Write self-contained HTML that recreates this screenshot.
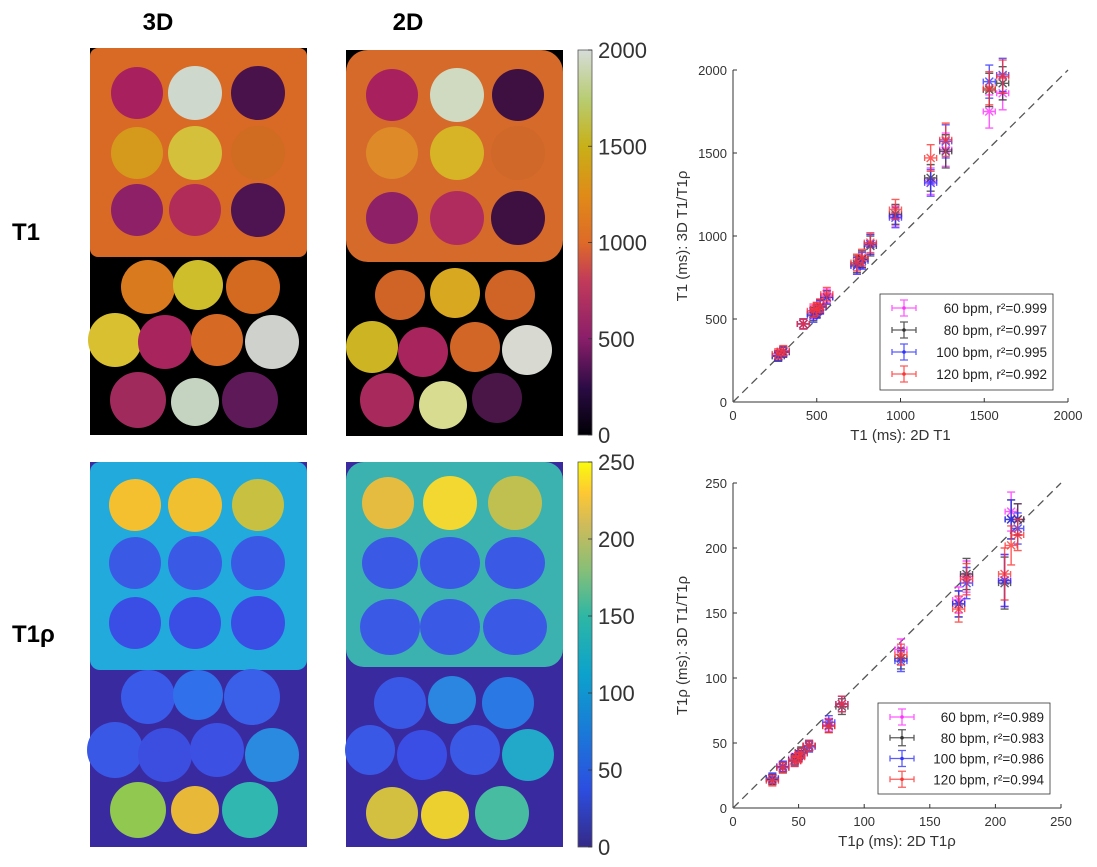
<!DOCTYPE html>
<html><head><meta charset="utf-8"><style>
body{margin:0;background:#fff;}
svg{display:block;font-family:"Liberation Sans",Arial,sans-serif;}
</style></head><body>
<svg id="fig" width="1097" height="867" viewBox="0 0 1097 867" xmlns="http://www.w3.org/2000/svg">
<defs>
<linearGradient id="gInf" x1="0" y1="1" x2="0" y2="0">
<stop offset="0" stop-color="#000004"/><stop offset="0.12" stop-color="#2a0b44"/><stop offset="0.25" stop-color="#8a1e6a"/><stop offset="0.4" stop-color="#c23a5a"/><stop offset="0.5" stop-color="#de6a28"/><stop offset="0.62" stop-color="#e08a18"/><stop offset="0.75" stop-color="#c8b018"/><stop offset="0.87" stop-color="#b8cc70"/><stop offset="1" stop-color="#d6dcd8"/>
</linearGradient>
<linearGradient id="gPar" x1="0" y1="1" x2="0" y2="0">
<stop offset="0" stop-color="#352a87"/><stop offset="0.15" stop-color="#2c4ee0"/><stop offset="0.3" stop-color="#1a7ad8"/><stop offset="0.45" stop-color="#0ca2cc"/><stop offset="0.6" stop-color="#2eb7a4"/><stop offset="0.72" stop-color="#87bf77"/><stop offset="0.84" stop-color="#d1bb59"/><stop offset="0.92" stop-color="#fec832"/><stop offset="1" stop-color="#f9fb0e"/>
</linearGradient>
</defs>
<g font-weight="bold" font-size="24" fill="#000">
<text x="158" y="30" text-anchor="middle">3D</text>
<text x="408" y="30" text-anchor="middle">2D</text>
<text x="12" y="240">T1</text>
<text x="12" y="642">T1ρ</text>
</g>
<g id="maps"></g>
<g id="plots"></g>
</svg>
<script>
// ---------- chart data ----------
const t1X = [270, 300, 420, 480, 500, 520, 560, 740, 770, 820, 970, 1180, 1270, 1530, 1610];
const t1Y60 = [280, 300, 470, 540, 560, 580, 640, 820, 860, 950, 1120, 1330, 1520, 1750, 1860];
const t1Y80 = [275, 300, 470, 530, 550, 575, 630, 830, 860, 940, 1130, 1350, 1510, 1880, 1920];
const t1Y100 = [280, 305, 470, 520, 545, 570, 630, 820, 850, 950, 1110, 1320, 1570, 1930, 1970];
const t1Y120 = [290, 310, 470, 550, 560, 580, 650, 840, 870, 960, 1160, 1470, 1580, 1890, 1960];
const t1Err = [30, 30, 30, 40, 40, 40, 40, 50, 50, 60, 60, 80, 100, 100, 100];
const t1Ticks = [0, 500, 1000, 1500, 2000];
const t1Legend = ["60 bpm, r²=0.999", "80 bpm, r²=0.997", "100 bpm, r²=0.995", "120 bpm, r²=0.992"];

const rhoX = [30, 38, 47, 50, 52, 58, 73, 83, 128, 172, 178, 207, 212, 217];
const rhoY60 = [22, 32, 38, 40, 42, 48, 64, 80, 122, 160, 178, 175, 228, 222];
const rhoY80 = [22, 31, 37, 40, 43, 48, 63, 78, 115, 157, 180, 173, 222, 222];
const rhoY100 = [23, 32, 36, 40, 42, 47, 66, 80, 113, 157, 173, 175, 222, 215];
const rhoY120 = [21, 31, 36, 39, 42, 48, 63, 80, 118, 153, 176, 180, 202, 210];
const rhoErr = [4, 4, 4, 4, 4, 4, 5, 6, 8, 10, 12, 20, 15, 12];
const rhoTicks = [0, 50, 100, 150, 200, 250];
const rhoLegend = ["60 bpm, r²=0.989", "80 bpm, r²=0.983", "100 bpm, r²=0.986", "120 bpm, r²=0.994"];

const seriesColors = ["#ff33ff", "#333333", "#3333ff", "#ff3333"];
const cbT1Ticks = [0, 500, 1000, 1500, 2000];
const cbRhoTicks = [0, 50, 100, 150, 200, 250];

const NS = "http://www.w3.org/2000/svg";
function mk(parent, tag, attrs){const e=document.createElementNS(NS,tag);for(const k in attrs)e.setAttribute(k,attrs[k]);parent.appendChild(e);return e;}

// ---------- maps ----------
const maps = document.getElementById('maps');
function panel(name, x, y, w, h, bg, sq, sqH, sqColor, circles, rx){
  const g = mk(maps,'g',{});
  
  
  mk(g,'rect',{x:x,y:y,width:w,height:h,fill:bg});
  mk(g,'rect',{x:x+sq[0],y:y,width:w-sq[0]-sq[1],height:sqH,rx:rx,fill:sqColor});
  circles.forEach(c=>{
    const e = mk(g,'ellipse',{cx:c[0],cy:c[1],rx:c[2],ry:c[3]||c[2],fill:c[4]});
    
    
  });
}
panel('map-3d-t1',90,48,217,387,'#000',[0,0],209,'#d96a26',[
 [137,93,26,0,'#a8205e'],[195,93,27,0,'#cfd8cc'],[258,93,27,0,'#4a124a'],
 [137,153,26,0,'#d59a1c'],[195,153,27,0,'#d4c03a'],[258,153,27,0,'#cf6c22'],
 [137,210,26,0,'#8e2068'],[195,210,26,0,'#b22c5a'],[258,210,27,0,'#4e1452'],
 [148,287,27,0,'#da7a1e'],[198,285,25,0,'#cfbe2c'],[253,287,27,0,'#d46a20'],
 [115,340,27,0,'#d8c030'],[165,342,27,0,'#a8245c'],[217,340,26,0,'#d66a24'],[272,342,27,0,'#cfd2cc'],
 [138,400,28,0,'#a02a5c'],[195,402,24,0,'#c4d4c0'],[250,400,28,0,'#5e1a58']],8);
panel('map-2d-t1',346,50,217,386,'#000',[0,0],212,'#d56a2a',[
 [392,95,26,0,'#a8205e'],[457,95,27,0,'#cfdac0'],[518,95,26,0,'#3e1042'],
 [392,153,26,0,'#de8a28'],[457,153,27,0,'#d6b426'],[518,153,27,0,'#d0682a'],
 [392,218,26,0,'#8e2068'],[457,218,27,0,'#b02c5e'],[518,218,27,0,'#3e1042'],
 [400,295,25,0,'#d06426'],[455,293,25,0,'#d8a820'],[510,295,25,0,'#d06426'],
 [372,347,26,0,'#cdb422'],[423,352,25,0,'#a8245c'],[475,347,25,0,'#d26626'],[527,350,25,0,'#d8dad2'],
 [387,400,27,0,'#a82a5c'],[443,405,24,0,'#d8dc90'],[497,398,25,0,'#4a1648']],22);
panel('map-3d-t1rho',90,462,217,385,'#3a2aa0',[0,0],208,'#22aadc',[
 [135,505,26,0,'#f4c030'],[195,505,27,0,'#f0c030'],[258,505,26,0,'#c8c040'],
 [135,563,26,0,'#3a5ae6'],[195,563,27,0,'#3a5ae6'],[258,563,27,0,'#3a5ae6'],
 [135,623,26,0,'#3a4ee6'],[195,623,26,0,'#3a4ee6'],[258,623,27,0,'#3a4ee6'],
 [148,697,27,0,'#3a5aea'],[198,695,25,0,'#3070ea'],[252,697,28,0,'#3a60ea'],
 [115,750,28,0,'#3a58e6'],[165,755,27,0,'#3c4ee0'],[217,750,27,0,'#3c50e4'],[272,755,27,0,'#2a8ae0'],
 [138,810,28,0,'#90c850'],[195,810,24,0,'#e8b838'],[250,810,28,0,'#30b8b0']],10);
panel('map-2d-t1rho',346,462,217,385,'#3a2aa0',[0,0],205,'#3cb2b0',[
 [388,503,26,0,'#e6bc40'],[450,503,27,0,'#f2d830'],[515,503,27,0,'#c0c050'],
 [390,563,28,26,'#3a5ae6'],[450,563,30,26,'#3a5ae6'],[515,563,30,26,'#3a5ae6'],
 [390,627,30,28,'#3a5ae6'],[450,627,30,28,'#3a5ae6'],[515,627,32,28,'#3a5ae6'],
 [400,703,26,0,'#3a58e6'],[452,700,24,0,'#2a86e0'],[508,703,26,0,'#2a78e4'],
 [370,750,25,0,'#3a58e6'],[422,755,25,0,'#3a4ee6'],[475,750,25,0,'#3a5ae6'],[528,755,26,0,'#22a8c8'],
 [392,813,26,0,'#d4c040'],[445,815,24,0,'#ecd030'],[502,813,27,0,'#48bca0']],18);

// colorbars
function colorbar(name, y0, y1, grad, ticks){
  const g = mk(maps,'g',{});
  
  
  mk(g,'rect',{x:578,y:y0,width:14,height:y1-y0,fill:'url(#'+grad+')',stroke:'#555','stroke-width':0.8});
  const max = ticks[ticks.length-1];
  ticks.forEach(t=>{
    const y = y1 - t/max*(y1-y0);
    mk(g,'line',{x1:588,x2:592,y1:y,y2:y,stroke:'#333','stroke-width':0.8});
    const tx = mk(g,'text',{x:598,y:y+8,'font-size':22,fill:'#333'});
    
    
    tx.textContent = t;
  });
}
colorbar('colorbar-t1',50,435,'gInf',cbT1Ticks);
colorbar('colorbar-t1rho',462,847,'gPar',cbRhoTicks);

// ---------- scatter plots ----------
const plots = document.getElementById('plots');
function scatter(name, L, R, T, B, max, ticks, xs, ys, err, legend, leg, xl, yl){
  const g = mk(plots,'g',{});
  
  
  const sx = v => L + v/max*(R-L);
  const sy = v => B - v/max*(B-T);
  mk(g,'line',{x1:L,y1:B,x2:R,y2:B,stroke:'#333','stroke-width':1});
  mk(g,'line',{x1:L,y1:B,x2:L,y2:T,stroke:'#333','stroke-width':1});
  ticks.forEach(t=>{
    mk(g,'line',{x1:sx(t),x2:sx(t),y1:B,y2:B-4,stroke:'#333'});
    mk(g,'line',{x1:L,x2:L+4,y1:sy(t),y2:sy(t),stroke:'#333'});
    const a = mk(g,'text',{x:sx(t),y:B+18,'font-size':13,'text-anchor':'middle',fill:'#333'});
    
    
    a.textContent=t;
    const b = mk(g,'text',{x:L-6,y:sy(t)+5,'font-size':13,'text-anchor':'end',fill:'#333'});
    
    
    b.textContent=t;
  });
  const d = mk(g,'line',{x1:sx(0),y1:sy(0),x2:sx(max),y2:sy(max),stroke:'#555','stroke-width':1.3,'stroke-dasharray':'8,5'});
  
  
  const xlab = mk(g,'text',{x:(L+R)/2,y:B+38,'font-size':15,'text-anchor':'middle',fill:'#333'});
  
  
  xlab.textContent = xl;
  const ylab = mk(g,'text',{x:0,y:0,'font-size':15,'text-anchor':'middle',fill:'#333',transform:'translate('+(L-46)+','+((T+B)/2)+') rotate(-90)'});
  
  
  ylab.textContent = yl;
  ys.forEach((s,si)=>{
    const col = seriesColors[si];
    const sg = mk(g,'g',{stroke:col,'stroke-opacity':0.8,fill:'none','stroke-width':1.4});
    
    
    s.forEach((v,i)=>{
      const px = sx(xs[i]), py = sy(v), e = err[i]/max*(B-T), ex = 6;
      const p = mk(sg,'path',{d:`M${px},${py-e}V${py+e}M${px-4},${py-e}H${px+4}M${px-4},${py+e}H${px+4}M${px-ex},${py}H${px+ex}M${px-ex},${py-3}V${py+3}M${px+ex},${py-3}V${py+3}M${px-4},${py-4}L${px+4},${py+4}M${px-4},${py+4}L${px+4},${py-4}`});
      
      
    });
  });
  const lg = mk(g,'g',{});
  
  
  mk(lg,'rect',{x:leg[0],y:leg[1],width:leg[2],height:leg[3],fill:'#fff',stroke:'#333','stroke-width':0.8});
  legend.forEach((t,i)=>{
    const yy = leg[1]+14+i*(leg[3]-8)/4;
    const en = mk(lg,'g',{});
    
    
    mk(en,'path',{d:`M${leg[0]+12},${yy}H${leg[0]+36}M${leg[0]+24},${yy-8}V${yy+8}M${leg[0]+20},${yy-8}H${leg[0]+28}M${leg[0]+20},${yy+8}H${leg[0]+28}M${leg[0]+12},${yy-3}V${yy+3}M${leg[0]+36},${yy-3}V${yy+3}`,stroke:seriesColors[i],'stroke-opacity':0.8,'stroke-width':1.3,fill:'none'});
    mk(en,'circle',{cx:leg[0]+24,cy:yy,r:1.8,fill:seriesColors[i]});
    const tx = mk(en,'text',{x:leg[0]+leg[2]-6,y:yy+5,'font-size':13.5,'text-anchor':'end',fill:'#222'});
    tx.textContent = t;
  });
}
scatter('t1-scatter-plot',733,1068,70,402,2000,t1Ticks,t1X,[t1Y60,t1Y80,t1Y100,t1Y120],t1Err,t1Legend,[880,294,173,96],'T1 (ms): 2D T1','T1 (ms): 3D T1/T1ρ');
scatter('t1rho-scatter-plot',733,1061,483,808,250,rhoTicks,rhoX,[rhoY60,rhoY80,rhoY100,rhoY120],rhoErr,rhoLegend,[878,703,172,91],'T1ρ (ms): 2D T1ρ','T1ρ (ms): 3D T1/T1ρ');
</script>
</body></html>
